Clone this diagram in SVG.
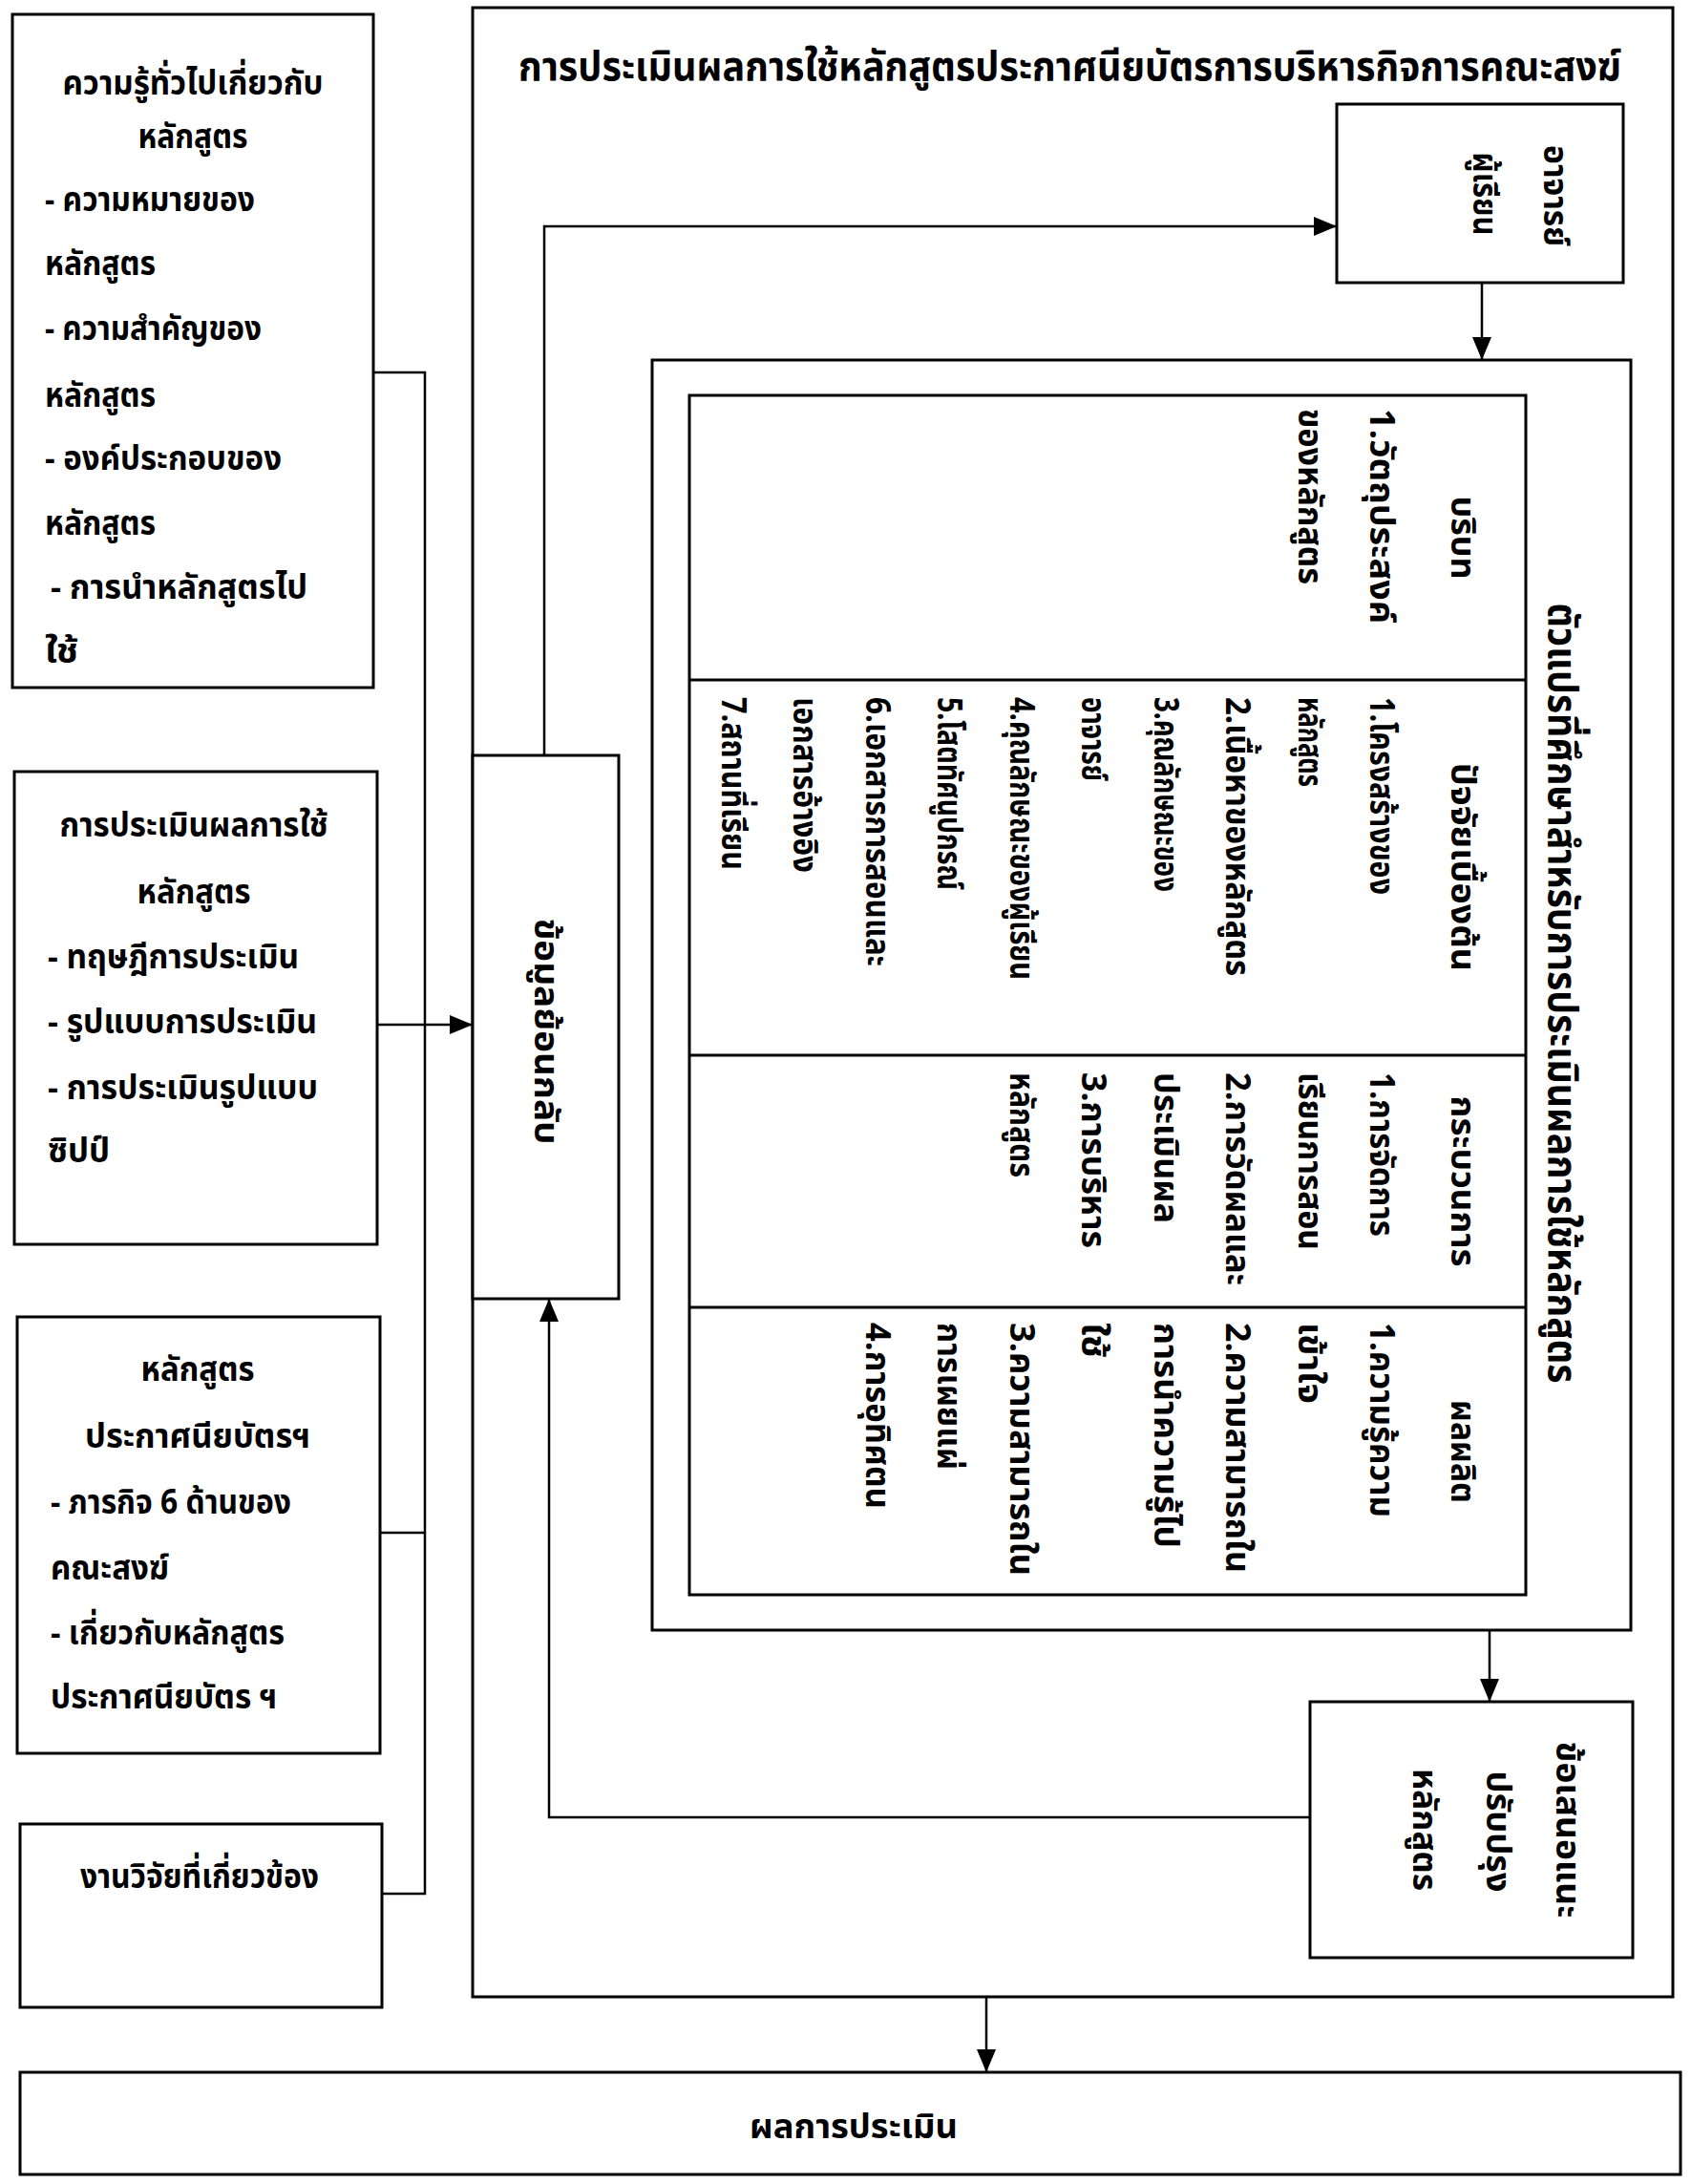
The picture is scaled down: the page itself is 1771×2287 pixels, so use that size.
<svg xmlns="http://www.w3.org/2000/svg" width="1771" height="2287" viewBox="0 0 1771 2287">
<style>
.box{fill:#fff;stroke:#000;stroke-width:3}
.ln{fill:none;stroke:#000;stroke-width:2.5}
.t{font-family:"Noto Sans Thai","Noto Sans Thai UI","Noto Serif Thai","Sarabun","Loma","Garuda","Norasi","Noto Sans","DejaVu Sans",sans-serif;font-weight:bold;font-size:36px;fill:#000}
.ti{font-size:42px}
.rs{font-size:36px}
</style>
<defs>
<marker id="ah" markerUnits="userSpaceOnUse" markerWidth="24" markerHeight="20" refX="24" refY="10" orient="auto">
<path d="M0,0 L24,10 L0,20 z" fill="#000"/>
</marker>
</defs>
<rect width="1771" height="2287" fill="#fff"/>

<g id="n-main">
<rect class="box" x="495" y="8" width="1257" height="2083"/>
<text class="t ti" x="543" y="84" textLength="1155" lengthAdjust="spacingAndGlyphs">การประเมินผลการใช้หลักสูตรประกาศนียบัตรการบริหารกิจการคณะสงฆ์</text>
</g>

<g id="n-knowledge">
<rect class="box" x="13" y="15" width="378" height="705"/>
<text class="t" x="202" y="99" text-anchor="middle" textLength="273" lengthAdjust="spacingAndGlyphs">ความรู้ทั่วไปเกี่ยวกับ</text>
<text class="t" x="202" y="155" text-anchor="middle" textLength="115" lengthAdjust="spacingAndGlyphs">หลักสูตร</text>
<text class="t" x="47" y="221" textLength="220" lengthAdjust="spacingAndGlyphs">- ความหมายของ</text>
<text class="t" x="47" y="288" textLength="116" lengthAdjust="spacingAndGlyphs">หลักสูตร</text>
<text class="t" x="47" y="356" textLength="227" lengthAdjust="spacingAndGlyphs">- ความสำคัญของ</text>
<text class="t" x="47" y="426" textLength="116" lengthAdjust="spacingAndGlyphs">หลักสูตร</text>
<text class="t" x="47" y="492" textLength="248" lengthAdjust="spacingAndGlyphs">- องค์ประกอบของ</text>
<text class="t" x="47" y="560" textLength="116" lengthAdjust="spacingAndGlyphs">หลักสูตร</text>
<text class="t" x="53" y="627" textLength="269" lengthAdjust="spacingAndGlyphs">- การนำหลักสูตรไป</text>
<text class="t" x="47" y="694" textLength="35" lengthAdjust="spacingAndGlyphs">ใช้</text>
</g>

<g id="n-evaluation">
<rect class="box" x="15" y="808" width="380" height="495"/>
<text class="t" x="203" y="876" text-anchor="middle" textLength="281" lengthAdjust="spacingAndGlyphs">การประเมินผลการใช้</text>
<text class="t" x="203" y="946" text-anchor="middle" textLength="119" lengthAdjust="spacingAndGlyphs">หลักสูตร</text>
<text class="t" x="50" y="1014" textLength="263" lengthAdjust="spacingAndGlyphs">- ทฤษฎีการประเมิน</text>
<text class="t" x="50" y="1082" textLength="282" lengthAdjust="spacingAndGlyphs">- รูปแบบการประเมิน</text>
<text class="t" x="50" y="1151" textLength="283" lengthAdjust="spacingAndGlyphs">- การประเมินรูปแบบ</text>
<text class="t" x="50" y="1217" textLength="65" lengthAdjust="spacingAndGlyphs">ซิปป์</text>
</g>

<g id="n-curriculum">
<rect class="box" x="18" y="1379" width="380" height="457"/>
<text class="t" x="207" y="1446" text-anchor="middle" textLength="119" lengthAdjust="spacingAndGlyphs">หลักสูตร</text>
<text class="t" x="207" y="1516" text-anchor="middle" textLength="236" lengthAdjust="spacingAndGlyphs">ประกาศนียบัตรฯ</text>
<text class="t" x="53" y="1585" textLength="252" lengthAdjust="spacingAndGlyphs">- ภารกิจ 6 ด้านของ</text>
<text class="t" x="53" y="1654" textLength="124" lengthAdjust="spacingAndGlyphs">คณะสงฆ์</text>
<text class="t" x="53" y="1722" textLength="245" lengthAdjust="spacingAndGlyphs">- เกี่ยวกับหลักสูตร</text>
<text class="t" x="53" y="1789" textLength="237" lengthAdjust="spacingAndGlyphs">ประกาศนียบัตร ฯ</text>
</g>

<g id="n-research">
<rect class="box" x="21" y="1910" width="379" height="192"/>
<text class="t" x="84" y="1977" textLength="250" lengthAdjust="spacingAndGlyphs">งานวิจัยที่เกี่ยวข้อง</text>
</g>

<g id="n-teacher">
<rect class="box" x="1400" y="109" width="300" height="187"/>
<text class="t" text-anchor="middle" transform="translate(1617,205) rotate(90)" textLength="106" lengthAdjust="spacingAndGlyphs">อาจารย์</text>
<text class="t" text-anchor="middle" transform="translate(1543,203) rotate(90)" textLength="87" lengthAdjust="spacingAndGlyphs">ผู้เรียน</text>
</g>

<g id="n-feedback">
<rect class="box" x="495" y="791" width="153" height="569"/>
<text class="t" text-anchor="middle" transform="translate(560,1080) rotate(90)" textLength="237" lengthAdjust="spacingAndGlyphs">ข้อมูลย้อนกลับ</text>
</g>

<g id="n-variables">
<rect class="box" x="683" y="377" width="1025" height="1330"/>
<rect class="box" x="722" y="414" width="876" height="1256"/>
<line class="ln" x1="722" y1="712" x2="1598" y2="712" style="stroke-width:3"/>
<line class="ln" x1="722" y1="1105" x2="1598" y2="1105" style="stroke-width:3"/>
<line class="ln" x1="722" y1="1369" x2="1598" y2="1369" style="stroke-width:3"/>
<text class="t ti" text-anchor="middle" transform="translate(1622,1040) rotate(90)" textLength="817" lengthAdjust="spacingAndGlyphs">ตัวแปรที่ศึกษาสำหรับการประเมินผลการใช้หลักสูตร</text>

<text class="t" text-anchor="middle" transform="translate(1520,563) rotate(90)" textLength="87" lengthAdjust="spacingAndGlyphs">บริบท</text>
<text class="t" transform="translate(1435,428) rotate(90)" textLength="225" lengthAdjust="spacingAndGlyphs">1.วัตถุประสงค์</text>
<text class="t" transform="translate(1360,428) rotate(90)" textLength="184" lengthAdjust="spacingAndGlyphs">ของหลักสูตร</text>

<text class="t" text-anchor="middle" transform="translate(1520,908) rotate(90)" textLength="218" lengthAdjust="spacingAndGlyphs">ปัจจัยเบื้องต้น</text>
<text class="t" transform="translate(1435,730) rotate(90)" textLength="207" lengthAdjust="spacingAndGlyphs">1.โครงสร้างของ</text>
<text class="t" transform="translate(1360,730) rotate(90)" textLength="94" lengthAdjust="spacingAndGlyphs">หลักสูตร</text>
<text class="t" transform="translate(1284,730) rotate(90)" textLength="292" lengthAdjust="spacingAndGlyphs">2.เนื้อหาของหลักสูตร</text>
<text class="t" transform="translate(1209,730) rotate(90)" textLength="204" lengthAdjust="spacingAndGlyphs">3.คุณลักษณะของ</text>
<text class="t" transform="translate(1133,730) rotate(90)" textLength="88" lengthAdjust="spacingAndGlyphs">อาจารย์</text>
<text class="t" transform="translate(1058,730) rotate(90)" textLength="296" lengthAdjust="spacingAndGlyphs">4.คุณลักษณะของผู้เรียน</text>
<text class="t" transform="translate(982,730) rotate(90)" textLength="202" lengthAdjust="spacingAndGlyphs">5.โสตทัศนูปกรณ์</text>
<text class="t" transform="translate(907,730) rotate(90)" textLength="282" lengthAdjust="spacingAndGlyphs">6.เอกสารการสอนและ</text>
<text class="t" transform="translate(831,730) rotate(90)" textLength="184" lengthAdjust="spacingAndGlyphs">เอกสารอ้างอิง</text>
<text class="t" transform="translate(756,730) rotate(90)" textLength="181" lengthAdjust="spacingAndGlyphs">7.สถานที่เรียน</text>

<text class="t" text-anchor="middle" transform="translate(1520,1237) rotate(90)" textLength="179" lengthAdjust="spacingAndGlyphs">กระบวนการ</text>
<text class="t" transform="translate(1435,1123) rotate(90)" textLength="172" lengthAdjust="spacingAndGlyphs">1.การจัดการ</text>
<text class="t" transform="translate(1360,1123) rotate(90)" textLength="186" lengthAdjust="spacingAndGlyphs">เรียนการสอน</text>
<text class="t" transform="translate(1284,1123) rotate(90)" textLength="223" lengthAdjust="spacingAndGlyphs">2.การวัดผลและ</text>
<text class="t" transform="translate(1209,1123) rotate(90)" textLength="158" lengthAdjust="spacingAndGlyphs">ประเมินผล</text>
<text class="t" transform="translate(1133,1123) rotate(90)" textLength="184" lengthAdjust="spacingAndGlyphs">3.การบริหาร</text>
<text class="t" transform="translate(1058,1123) rotate(90)" textLength="110" lengthAdjust="spacingAndGlyphs">หลักสูตร</text>

<text class="t" text-anchor="middle" transform="translate(1520,1520) rotate(90)" textLength="108" lengthAdjust="spacingAndGlyphs">ผลผลิต</text>
<text class="t" transform="translate(1435,1385) rotate(90)" textLength="204" lengthAdjust="spacingAndGlyphs">1.ความรู้ความ</text>
<text class="t" transform="translate(1360,1385) rotate(90)" textLength="85" lengthAdjust="spacingAndGlyphs">เข้าใจ</text>
<text class="t" transform="translate(1284,1385) rotate(90)" textLength="262" lengthAdjust="spacingAndGlyphs">2.ความสามารถใน</text>
<text class="t" transform="translate(1209,1385) rotate(90)" textLength="236" lengthAdjust="spacingAndGlyphs">การนำความรู้ไป</text>
<text class="t" transform="translate(1133,1385) rotate(90)" textLength="37" lengthAdjust="spacingAndGlyphs">ใช้</text>
<text class="t" transform="translate(1058,1385) rotate(90)" textLength="265" lengthAdjust="spacingAndGlyphs">3.ความสามารถใน</text>
<text class="t" transform="translate(982,1385) rotate(90)" textLength="154" lengthAdjust="spacingAndGlyphs">การเผยแผ่</text>
<text class="t" transform="translate(907,1385) rotate(90)" textLength="195" lengthAdjust="spacingAndGlyphs">4.การอุทิศตน</text>
</g>

<g id="n-suggest">
<rect class="box" x="1372" y="1782" width="338" height="268"/>
<text class="t" text-anchor="middle" transform="translate(1630,1916) rotate(90)" textLength="185" lengthAdjust="spacingAndGlyphs">ข้อเสนอแนะ</text>
<text class="t" text-anchor="middle" transform="translate(1557,1918) rotate(90)" textLength="127" lengthAdjust="spacingAndGlyphs">ปรับปรุง</text>
<text class="t" text-anchor="middle" transform="translate(1480,1916) rotate(90)" textLength="128" lengthAdjust="spacingAndGlyphs">หลักสูตร</text>
</g>

<g id="n-result">
<rect class="box" x="21" y="2170" width="1739" height="107"/>
<text class="t rs" x="785" y="2239" textLength="218" lengthAdjust="spacingAndGlyphs">ผลการประเมิน</text>
</g>

<g id="connectors">
<path class="ln" d="M391,390 H445 V1983 H400"/>
<path class="ln" d="M398,1605 H445"/>
<path class="ln" d="M395,1073 H495" marker-end="url(#ah)"/>
<path class="ln" d="M570,791 V237 H1400" marker-end="url(#ah)"/>
<path class="ln" d="M1552,296 V377" marker-end="url(#ah)"/>
<path class="ln" d="M1560,1707 V1782" marker-end="url(#ah)"/>
<path class="ln" d="M1372,1903 H575 V1360" marker-end="url(#ah)"/>
<path class="ln" d="M1033,2091 V2170" marker-end="url(#ah)"/>
</g>
</svg>
